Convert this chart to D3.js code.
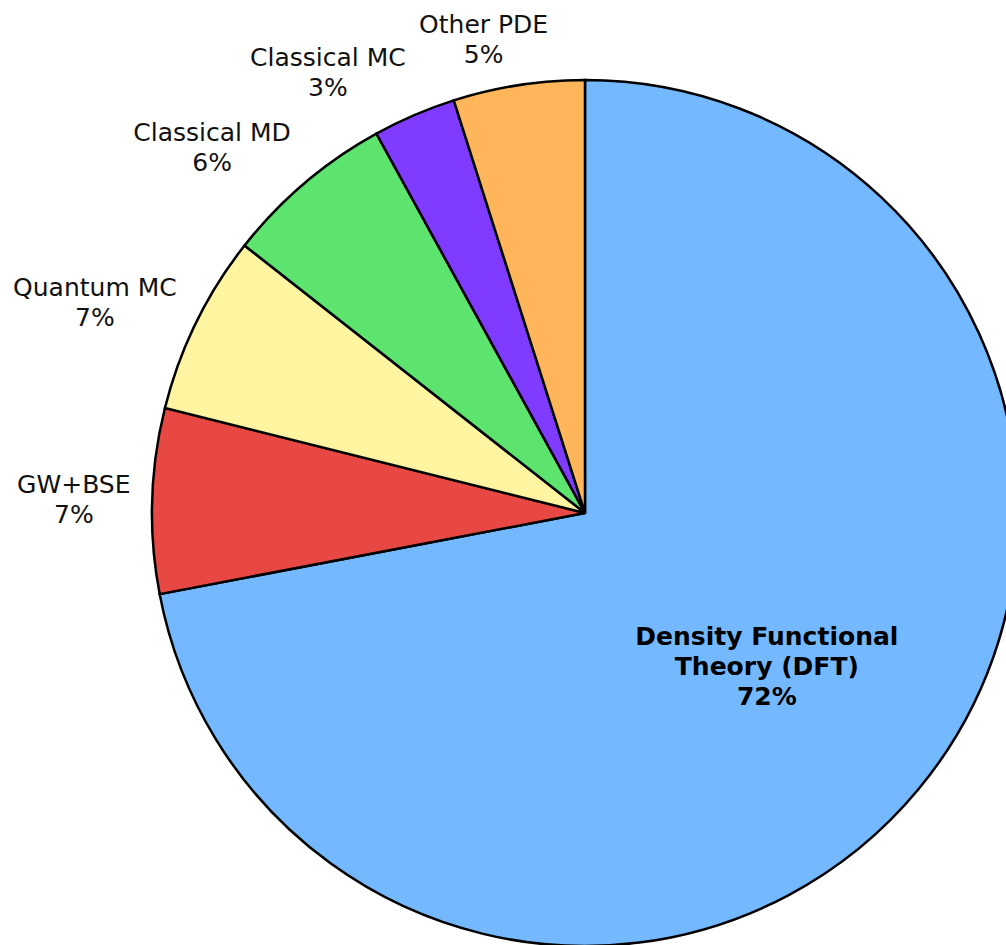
<!DOCTYPE html>
<html>
<head>
<meta charset="utf-8">
<script src="https://cdn.jsdelivr.net/npm/d3@7"></script>
<style>
  html, body { margin: 0; padding: 0; background: #fff; }
  text { font-family: "DejaVu Sans", Verdana, sans-serif; }
</style>
</head>
<body>
<div id="chart"></div>
<script>
// Share of compute methods (percent), clockwise from 12 o'clock
const methods = ['Density Functional\nTheory (DFT)', 'GW+BSE', 'Quantum MC', 'Classical MD', 'Classical MC', 'Other PDE'];
const shares = [72.0, 6.9, 6.7, 6.4, 3.1, 4.9];
const colors = ['#74b9ff', '#e74843', '#fff4a0', '#5ce46e', '#7f3bff', '#ffb55a'];

const width = 1006, height = 945;
const cx = 585, cy = 513, radius = 433;

const svg = d3.select('#chart').append('svg')
    .attr('width', width)
    .attr('height', height);

const g = svg.append('g').attr('transform', `translate(${cx},${cy})`);

const data = methods.map((m, i) => ({ name: m, value: shares[i], color: colors[i] }));
const total = d3.sum(shares);

const pie = d3.pie().sort(null).value(d => d.value);
const arcs = pie(data);

const arc = d3.arc().innerRadius(0).outerRadius(radius);

// slices
g.selectAll('path.slice')
    .data(arcs)
    .enter().append('path')
    .attr('class', 'slice')
    .attr('d', arc)
    .style('fill', d => d.data.color)
    .style('stroke', 'black')
    .style('stroke-width', 2.5)
    .style('stroke-linejoin', 'miter');

const lineH = 30;

// big slice: label inside, bold
const inner = arcs[0];
const innerPos = d3.arc().innerRadius(radius * 1.09).outerRadius(radius * 1.09).centroid(inner);
const innerLines = inner.data.name.split('\n').concat([Math.round(inner.data.value / total * 100) + '%']);
const innerText = g.append('text')
    .attr('text-anchor', 'middle')
    .style('font-size', '25px')
    .style('font-weight', 'bold')
    .attr('transform', `translate(${innerPos[0] / 2},${innerPos[1] / 2 + 3})`);
innerText.selectAll('tspan')
    .data(innerLines)
    .enter().append('tspan')
    .attr('x', 0)
    .attr('y', (d, i) => (i - (innerLines.length - 1) / 2) * lineH + 9)
    .text(d => d);

// small slices: labels outside the rim at the slice's mid-angle;
// blocks hang to the left, less so near the top
const labelR = radius * 1.05;
arcs.slice(1).forEach(a => {
    const mid = (a.startAngle + a.endAngle) / 2;
    const s = Math.sin(mid), c = Math.cos(mid);
    const ax = labelR * s;
    const ay = -(labelR + 25) * c;
    const lines = [a.data.name, Math.round(a.data.value / total * 100) + '%'];
    const t = g.append('text')
        .attr('text-anchor', 'middle')
        .style('font-size', '25px')
        .style('fill', '#111');
    t.selectAll('tspan')
        .data(lines)
        .enter().append('tspan')
        .attr('x', 0)
        .attr('y', (d, i) => (i - 0.5) * lineH + 9)
        .text(d => d);
    const w = t.node().getBBox().width;
    const hang = Math.min(1, 3.2 * Math.abs(s));
    t.attr('transform', `translate(${ax - hang * w / 2},${ay})`);
});
</script>
</body>
</html>
